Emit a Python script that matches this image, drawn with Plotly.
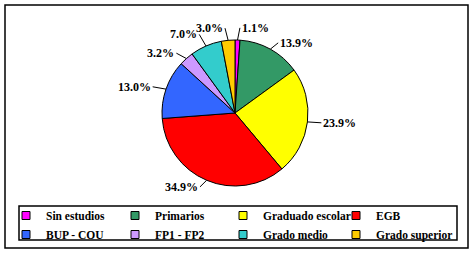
import math
import plotly.graph_objects as go

labels = ["Sin estudios", "Primarios", "Graduado escolar", "EGB",
          "BUP - COU", "FP1 - FP2", "Grado medio", "Grado superior"]
values = [1.1, 13.9, 23.9, 34.9, 13.0, 3.2, 7.0, 3.0]
colors = ["#FF00FF", "#339966", "#FFFF00", "#FF0000",
          "#3366FF", "#CC99FF", "#33CCCC", "#FFCC00"]

W, H = 473, 253
CX, CY, R = 235, 113, 73  # pie centre / radius in pixels
LEAD = 12                 # leader line length in px
NCOL = 4
COL_X = [6, 115, 223, 336]  # legend column left edges (px)
LEG_TOP = 201

fig = go.Figure(go.Pie(
    labels=labels, values=values, sort=False, direction="clockwise", rotation=0,
    marker=dict(colors=colors, line=dict(color="black", width=1)),
    textinfo="none",
    domain=dict(x=[(CX - R) / W, (CX + R) / W], y=[1 - (CY + R) / H, 1 - (CY - R) / H]),
    hoverinfo="label+percent", showlegend=False,
))

# legend entries (one legend per column, as in the original 4-column grid)
for i, (lab, col) in enumerate(zip(labels, colors)):
    j = i % NCOL
    fig.add_trace(go.Scatter(
        x=[None], y=[None], mode="markers", name=lab,
        marker=dict(symbol="square", size=8, color=col, line=dict(color="black", width=1)),
        legend="legend" if j == 0 else f"legend{j + 1}", showlegend=True,
    ))

# percentage labels with leader lines, placed from each slice's mid angle
total = sum(values)
annotations = []
cum = 0.0
for v in values:
    f = (cum + v / 2) / total
    cum += v
    th = 2 * math.pi * f
    s, c = math.sin(th), math.cos(th)
    px = CX + R * s
    py = CY - R * c
    annotations.append(dict(
        x=px / W, y=1 - py / H, xref="paper", yref="paper",
        text=f"<b>{v:.1f}%</b>", showarrow=True, arrowhead=0, arrowwidth=1,
        arrowcolor="black", ax=LEAD * s + (2 if s >= 0 else -2),
        ay=-LEAD * c * 0.6 - (5 if c > 0.9 else 0),
        xanchor="left" if s >= 0 else "right", yanchor="middle",
        font=dict(family="Liberation Serif", size=12, color="black"),
    ))

leg_font = dict(family="Liberation Serif", size=11.5, color="black", weight="bold")
legends = {}
for j in range(NCOL):
    key = "legend" if j == 0 else f"legend{j + 1}"
    legends[key] = dict(orientation="v", x=COL_X[j] / W, y=1 - LEG_TOP / H,
                        xanchor="left", yanchor="top", borderwidth=0,
                        bgcolor="rgba(0,0,0,0)", font=leg_font, itemwidth=30,
                        tracegroupgap=0)

fig.update_layout(
    width=W, height=H, margin=dict(l=0, r=0, t=0, b=0, autoexpand=False),
    paper_bgcolor="white", plot_bgcolor="white",
    font=dict(family="Liberation Serif", size=12, color="black"),
    xaxis=dict(visible=False), yaxis=dict(visible=False),
    annotations=annotations,
    shapes=[
        dict(type="rect", xref="paper", yref="paper", x0=5 / W, x1=468 / W,
             y0=1 - 248 / H, y1=1 - 5 / H, line=dict(color="black", width=1.5),
             fillcolor="rgba(0,0,0,0)", layer="below"),
        dict(type="rect", xref="paper", yref="paper", x0=19 / W, x1=457 / W,
             y0=1 - 240 / H, y1=1 - 206 / H, line=dict(color="black", width=1.5),
             fillcolor="rgba(0,0,0,0)", layer="below"),
    ],
    **legends,
)
fig.write_html("out.html")
